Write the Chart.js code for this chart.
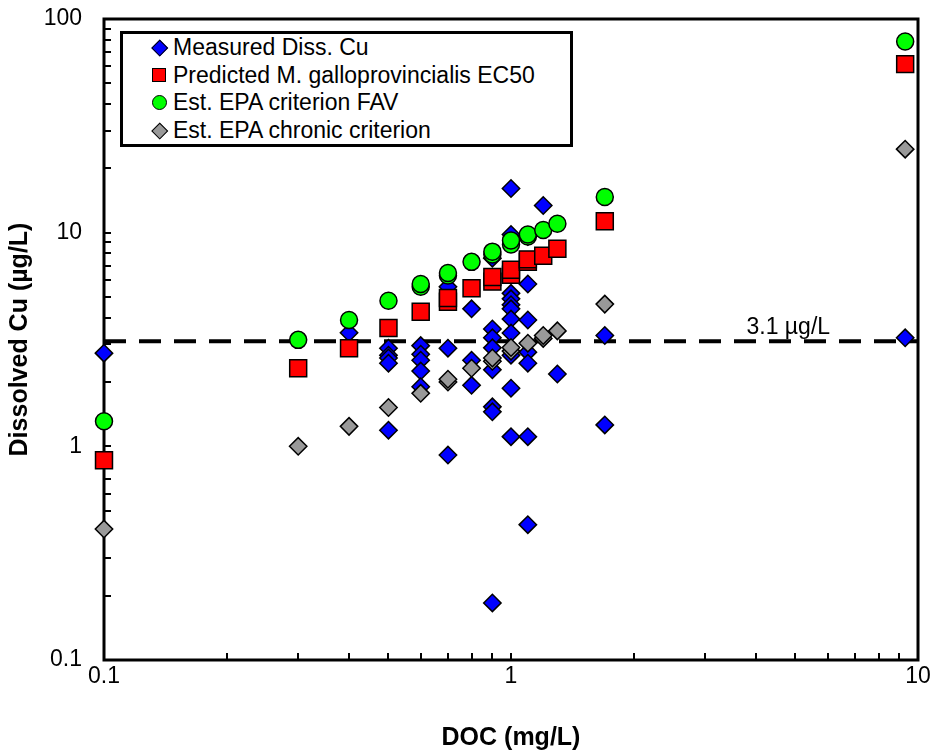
<!DOCTYPE html>
<html>
<head>
<meta charset="utf-8">
<script src="https://cdn.jsdelivr.net/npm/chart.js@4.4.1/dist/chart.umd.min.js"></script>
<style>
    body { margin: 0; background: #fff; }
    #wrap { position: relative; width: 936px; height: 750px; }
    #legend {
        position: absolute; left: 120px; top: 31px; width: 447px; height: 110px;
        border: 3px solid #000; background: #fff;
        font-family: "Liberation Sans", Arial, sans-serif; font-size: 23px; color: #000;
    }
    .row { position: relative; height: 27.7px; line-height: 27.7px; padding-left: 50px; white-space: nowrap; }
    .mk { position: absolute; left: 29px; top: 6px; width: 14px; height: 14px; border: 1.5px solid #000; box-sizing: border-box; }
    .mk.rectRot { width: 11.5px; height: 11.5px; left: 31px; top: 8px; transform: rotate(45deg); }
    .mk.circle { border-radius: 50%; width: 15px; height: 15px; left: 29px; top: 6px; }
</style>
</head>
<body>
<div id="wrap">
    <canvas id="chart" width="936" height="750"></canvas>
    <div id="legend"></div>
</div>
<script>
// DOC (mg/L) and dissolved Cu (ug/L)
const measuredX = [0.1, 0.4, 0.5, 0.5, 0.5, 0.5, 0.5, 0.6, 0.6, 0.6, 0.6, 0.6, 0.7, 0.7, 0.7, 0.8, 0.8, 0.8,
    0.9, 0.9, 0.9, 0.9, 0.9, 0.9, 0.9, 0.9, 1.0, 1.0, 1.0, 1.0, 1.0, 1.0, 1.0, 1.0, 1.0, 1.0, 1.0,
    1.1, 1.1, 1.1, 1.1, 1.1, 1.1, 1.1, 1.2, 1.3, 1.7, 1.7, 9.3];
const measuredY = [2.73, 3.4, 2.88, 2.67, 2.59, 2.45, 1.19, 2.96, 2.7, 2.53, 2.25, 1.9, 5.58, 2.88, 0.91, 4.4, 2.53, 1.93,
    7.6, 3.54, 3.22, 2.89, 2.28, 1.53, 1.45, 0.185, 16.1, 9.8, 5.2, 4.9, 4.6, 4.4, 3.94, 3.39, 2.67, 1.87, 1.11,
    9.6, 5.75, 3.9, 2.76, 2.45, 1.11, 0.43, 13.4, 2.18, 3.3, 1.26, 3.22];

const predictedX = [0.1, 0.3, 0.4, 0.5, 0.6, 0.7, 0.7, 0.8, 0.9, 0.9, 1.0, 1.0, 1.1, 1.1, 1.2, 1.3, 1.7, 9.3];
const predictedY = [0.86, 2.32, 2.88, 3.58, 4.26, 4.75, 4.95, 5.5, 5.9, 6.2, 6.35, 6.7, 7.3, 7.5, 7.8, 8.4, 11.3, 61.5];

const favX = [0.1, 0.3, 0.4, 0.5, 0.6, 0.6, 0.7, 0.7, 0.8, 0.9, 0.9, 1.0, 1.0, 1.1, 1.1, 1.2, 1.3, 1.7, 9.3];
const favY = [1.31, 3.15, 3.9, 4.8, 5.58, 5.75, 6.3, 6.47, 7.3, 7.9, 8.15, 8.8, 9.2, 9.6, 9.8, 10.3, 11.0, 14.7, 78.5];

const chronicX = [0.1, 0.3, 0.4, 0.5, 0.6, 0.7, 0.7, 0.8, 0.9, 0.9, 1.0, 1.0, 1.1, 1.2, 1.2, 1.3, 1.7, 9.3];
const chronicY = [0.41, 1.0, 1.24, 1.52, 1.77, 2.0, 2.06, 2.32, 2.5, 2.59, 2.79, 2.9, 3.04, 3.2, 3.3, 3.47, 4.63, 24.6];

const seriesNames = ["Measured Diss. Cu", "Predicted M. galloprovincialis EC50", "Est. EPA criterion FAV", "Est. EPA chronic criterion"];

const thresholdValue = 3.1;
const thresholdLabel = "3.1 \u00b5g/L";
const thresholdLabelX = 4.8;

const xTicks = [0.1, 1, 10];
const yTicks = [0.1, 1, 10, 100];

function toPoints(xs, ys) {
    let points = [];
    for (let i = 0; i < xs.length; i++) {
        points.push({ x: xs[i], y: ys[i] });
    }
    return points;
}

function markerDataset(label, xs, ys, color, style, radius, order) {
    return {
        label: label,
        data: toPoints(xs, ys),
        backgroundColor: color,
        borderColor: '#000',
        borderWidth: 1.5,
        pointStyle: style,
        pointRadius: radius,
        pointHoverRadius: radius,
        showLine: false,
        clip: false,
        order: order
    };
}

const datasets = [
    markerDataset(seriesNames[0], measuredX, measuredY, '#0000ff', 'rectRot', 8.7, 4),
    markerDataset(seriesNames[1], predictedX, predictedY, '#ff0000', 'rect', 12, 3),
    markerDataset(seriesNames[2], favX, favY, '#00ff00', 'circle', 8.5, 2),
    markerDataset(seriesNames[3], chronicX, chronicY, '#999999', 'rectRot', 8.7, 1),
    {
        type: 'line',
        label: 'threshold',
        data: [{ x: xTicks[0], y: thresholdValue }, { x: xTicks[xTicks.length - 1], y: thresholdValue }],
        borderColor: '#000',
        borderWidth: 4,
        borderDash: [22, 13],
        pointRadius: 0,
        fill: false,
        order: 5
    }
];

// frame, inside tick marks and the threshold label
const framePlugin = {
    id: 'framePlugin',
    beforeDatasetsDraw(chart) {
        const ctx = chart.ctx;
        const area = chart.chartArea;
        const xs = chart.scales.x;
        const ys = chart.scales.y;
        ctx.save();
        ctx.strokeStyle = '#000';
        ctx.lineWidth = 2;
        ctx.beginPath();
        for (let d = 0; d < xTicks.length; d++) {
            for (let m = 1; m <= 9; m++) {
                let v = xTicks[d] * m;
                if (v > xTicks[xTicks.length - 1]) continue;
                let px = Math.round(xs.getPixelForValue(v));
                ctx.moveTo(px, area.bottom);
                ctx.lineTo(px, area.bottom - 7);
            }
        }
        for (let d = 0; d < yTicks.length; d++) {
            for (let m = 1; m <= 9; m++) {
                let v = yTicks[d] * m;
                if (v > yTicks[yTicks.length - 1]) continue;
                let py = Math.round(ys.getPixelForValue(v));
                ctx.moveTo(area.left, py);
                ctx.lineTo(area.left + 7, py);
            }
        }
        ctx.stroke();
        ctx.lineWidth = 3;
        ctx.strokeRect(area.left, area.top, area.right - area.left, area.bottom - area.top);

        ctx.fillStyle = '#000';
        ctx.font = '23px "Liberation Sans", Arial, sans-serif';
        ctx.textAlign = 'center';
        ctx.textBaseline = 'alphabetic';
        ctx.fillText(thresholdLabel, xs.getPixelForValue(thresholdLabelX), ys.getPixelForValue(thresholdValue) - 7);
        ctx.restore();
    }
};

function renderLegend() {
    let legendRef = document.getElementById('legend');
    legendRef.innerHTML = '';
    for (let i = 0; i < 4; i++) {
        const ds = datasets[i];
        legendRef.innerHTML += `<div class="row"><span class="mk ${ds.pointStyle}" style="background:${ds.backgroundColor}"></span>${ds.label}</div>`;
    }
}

const tickFont = { family: '"Liberation Sans", Arial, sans-serif', size: 23 };
const titleFont = { family: '"Liberation Sans", Arial, sans-serif', size: 25, weight: 'bold' };

new Chart(document.getElementById('chart'), {
    type: 'scatter',
    data: { datasets: datasets },
    options: {
        responsive: false,
        animation: false,
        events: [],
        layout: { padding: { top: 19, right: 18, left: 0, bottom: 0 } },
        plugins: { legend: { display: false }, tooltip: { enabled: false } },
        scales: {
            x: {
                type: 'logarithmic',
                min: xTicks[0],
                max: xTicks[xTicks.length - 1],
                afterBuildTicks: scale => { scale.ticks = xTicks.map(v => ({ value: v })); },
                afterFit: scale => {
                    scale.height = 90;
                    scale.paddingLeft = 0;
                    scale.paddingRight = 0;
                },
                grid: { display: false },
                border: { display: false },
                ticks: { color: '#000', font: tickFont, padding: -5, maxRotation: 0, callback: v => String(v) },
                title: { display: true, text: 'DOC (mg/L)', color: '#000', font: titleFont, padding: { top: 0, bottom: -3 } }
            },
            y: {
                type: 'logarithmic',
                min: yTicks[0],
                max: yTicks[yTicks.length - 1],
                afterBuildTicks: scale => { scale.ticks = yTicks.map(v => ({ value: v })); },
                afterFit: scale => {
                    scale.width = 104;
                    scale.paddingTop = 0;
                    scale.paddingBottom = 0;
                },
                grid: { display: false },
                border: { display: false },
                ticks: { color: '#000', font: tickFont, padding: 14, callback: v => String(v) },
                title: { display: true, text: 'Dissolved Cu (\u00b5g/L)', color: '#000', font: titleFont, padding: { top: 5, bottom: 0 } }
            }
        }
    },
    plugins: [framePlugin]
});

renderLegend();
</script>
</body>
</html>
